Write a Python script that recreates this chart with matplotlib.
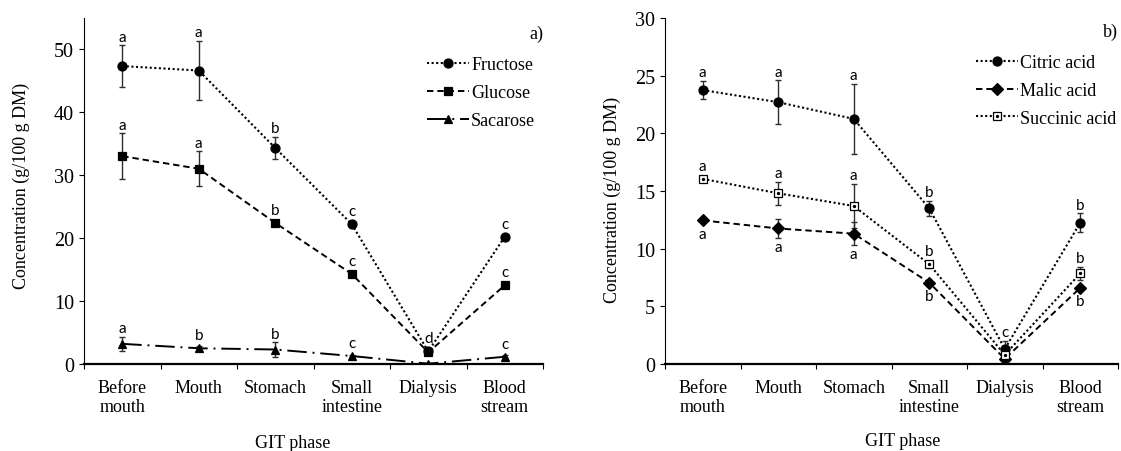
import matplotlib
matplotlib.use("Agg")
import matplotlib.pyplot as plt
from matplotlib.legend_handler import HandlerTuple

# ---------------- data ----------------
phases = ["Before\nmouth", "Mouth", "Stomach", "Small\nintestine", "Dialysis", "Blood\nstream"]

fructose = [47.3, 46.6, 34.3, 22.2, 2.0, 20.2]
fructose_err = [3.3, 4.7, 1.8, 0.4, 0.3, 0.4]
fructose_sig = ["a", "a", "b", "c", "d", "c"]

glucose = [33.0, 31.0, 22.4, 14.3, 1.85, 12.5]
glucose_err = [3.6, 2.8, 0.4, 0.4, 0.2, 0.4]
glucose_sig = ["a", "a", "b", "c", "", "c"]

sacarose = [3.2, 2.5, 2.3, 1.27, 0.05, 1.15]
sacarose_err = [1.1, 0.3, 1.15, 0.2, 0.05, 0.2]
sacarose_sig = ["a", "b", "b", "c", "", "c"]

citric = [23.75, 22.7, 21.25, 13.5, 1.3, 12.25]
citric_err = [0.8, 1.9, 3.05, 0.65, 0.7, 0.8]
citric_sig = ["a", "a", "a", "b", "c", "b"]

malic = [12.45, 11.75, 11.3, 7.05, 0.45, 6.6]
malic_err = [0.15, 0.8, 1.0, 0.2, 0.1, 0.2]
malic_sig = ["a", "a", "a", "b", "", "b"]

succinic = [16.05, 14.8, 13.7, 8.65, 0.8, 7.85]
succinic_err = [0.15, 1.0, 1.95, 0.3, 0.2, 0.6]
succinic_sig = ["a", "a", "a", "b", "", "b"]

# ---------------- style ----------------
W, H = 1121, 452
SERIF = ["Liberation Serif", "DejaVu Serif"]
SANS = ["Lato", "DejaVu Sans"]
plt.rcParams["font.family"] = SERIF

fig = plt.figure(figsize=(W / 100, H / 100), dpi=100)

def px_axes(x0, x1, ytop, ybot):
    return fig.add_axes([x0 / W, 1 - ybot / H, (x1 - x0) / W, (ybot - ytop) / H])

axL = px_axes(84, 543, 18.6, 365)
axR = px_axes(665, 1118, 19, 365)

xs = list(range(1, len(phases) + 1))

DOT = (0, (1, 1.2))
DASH = (0, (3.3, 2.0))
DASHDOT = (0, (10, 3, 1, 3))

def setup(ax, ymax, yticks):
    ax.set_xlim(0.5, len(phases) + 0.5)
    ax.set_ylim(0, ymax)
    ax.set_yticks(yticks)
    ax.set_xticks([i + 0.5 for i in range(len(phases) + 1)])
    ax.set_xticklabels([])
    ax.set_xticks(xs, minor=True)
    ax.set_xticklabels(phases, minor=True, fontsize=13, linespacing=1.12)
    ax.tick_params(axis="x", which="major", direction="out", length=3.6, width=0.8)
    ax.tick_params(axis="x", which="minor", length=0, pad=11)
    ax.tick_params(axis="y", direction="out", length=3.6, width=0.8, labelsize=14.5, pad=3.5)
    for s in ("top", "right"):
        ax.spines[s].set_visible(False)
    ax.spines["left"].set_linewidth(0.8)
    ax.spines["bottom"].set_linewidth(1.6)

setup(axL, 55, [0, 10, 20, 30, 40, 50])
setup(axR, 30, [0, 5, 10, 15, 20, 25, 30])

ERRC = "#2e2e2e"

def series(ax, vals, errs, marker, ms, ls, lw, label, mfc="black"):
    ax.errorbar(xs, vals, yerr=errs, fmt="none", ecolor=ERRC, elinewidth=1.0,
                capsize=2.4, capthick=1.0, zorder=2)
    ln, = ax.plot(xs, vals, color="black", linestyle=ls, linewidth=lw, marker=marker,
                  markersize=ms, markerfacecolor=mfc, markeredgecolor="black",
                  markeredgewidth=0.9, label=label, zorder=3)
    return ln

def letters(ax, vals, errs, sigs, ymax, above=True, half_px=4.5, gap_pt=3.2):
    bb = ax.get_position()
    px_per_unit = bb.height * H / ymax
    half = half_px / px_per_unit
    for x, v, e, s in zip(xs, vals, errs, sigs):
        if not s:
            continue
        if above:
            ax.annotate(s, (x, v + max(e, half)), xytext=(0, gap_pt), textcoords="offset points",
                        ha="center", va="baseline", fontsize=11, family=SANS, zorder=4)
        else:
            ax.annotate(s, (x, v - max(e, half)), xytext=(0, -1.5), textcoords="offset points",
                        ha="center", va="top", fontsize=11, family=SANS, zorder=4)

# Left panel
lf = series(axL, fructose, fructose_err, "o", 6.5, DOT, 1.5, "Fructose")
lg = series(axL, glucose, glucose_err, "s", 5.8, DASH, 1.4, "Glucose")
ls_ = series(axL, sacarose, sacarose_err, "^", 6.3, DASHDOT, 1.4, "Sacarose")
letters(axL, fructose, fructose_err, fructose_sig, 55)
letters(axL, glucose, glucose_err, glucose_sig, 55)
letters(axL, sacarose, sacarose_err, sacarose_sig, 55)

# Right panel
lc = series(axR, citric, citric_err, "o", 6.5, DOT, 1.5, "Citric acid")
lm = series(axR, malic, malic_err, "D", 5.8, DASH, 1.4, "Malic acid")
lsu = series(axR, succinic, succinic_err, "s", 5.2, DOT, 1.5, "Succinic acid", mfc="white")
dots, = axR.plot(xs, succinic, linestyle="none", marker="o", markersize=1.4,
                 color="black", zorder=4)
letters(axR, citric, citric_err, citric_sig, 30)
letters(axR, succinic, succinic_err, succinic_sig, 30)
letters(axR, malic, malic_err, malic_sig, 30, above=False)

# Legends
legL = axL.legend([lf, lg, ls_], ["Fructose", "Glucose", "Sacarose"],
                  loc="upper left", bbox_to_anchor=(427 / W, 1 - 57 / H),
                  bbox_transform=fig.transFigure, frameon=False, fontsize=13,
                  handlelength=2.3, handletextpad=0.15, labelspacing=0.62,
                  borderpad=0, borderaxespad=0)
legR = axR.legend([lc, lm, (lsu, dots)], ["Citric acid", "Malic acid", "Succinic acid"],
                  loc="upper left", bbox_to_anchor=(976 / W, 1 - 55 / H),
                  bbox_transform=fig.transFigure, frameon=False, fontsize=13,
                  handlelength=2.3, handletextpad=0.15, labelspacing=0.6,
                  borderpad=0, borderaxespad=0,
                  handler_map={tuple: HandlerTuple(ndivide=1)})

# Panel tags and axis titles
fig.text(543 / W, 1 - 34 / H, "a)", ha="right", va="center", fontsize=13)
fig.text(1118 / W, 1 - 32 / H, "b)", ha="right", va="center", fontsize=13)

fig.text(21 / W, 1 - 186 / H, "Concentration (g/100 g DM)", rotation=90,
         ha="center", va="center", fontsize=13)
fig.text(612 / W, 1 - 200 / H, "Concentration (g/100 g DM)", rotation=90,
         ha="center", va="center", fontsize=13)
fig.text(293 / W, 1 - 444 / H, "GIT phase", ha="center", va="center", fontsize=13)
fig.text(903 / W, 1 - 442 / H, "GIT phase", ha="center", va="center", fontsize=13)

fig.savefig("out.png", dpi=100)
